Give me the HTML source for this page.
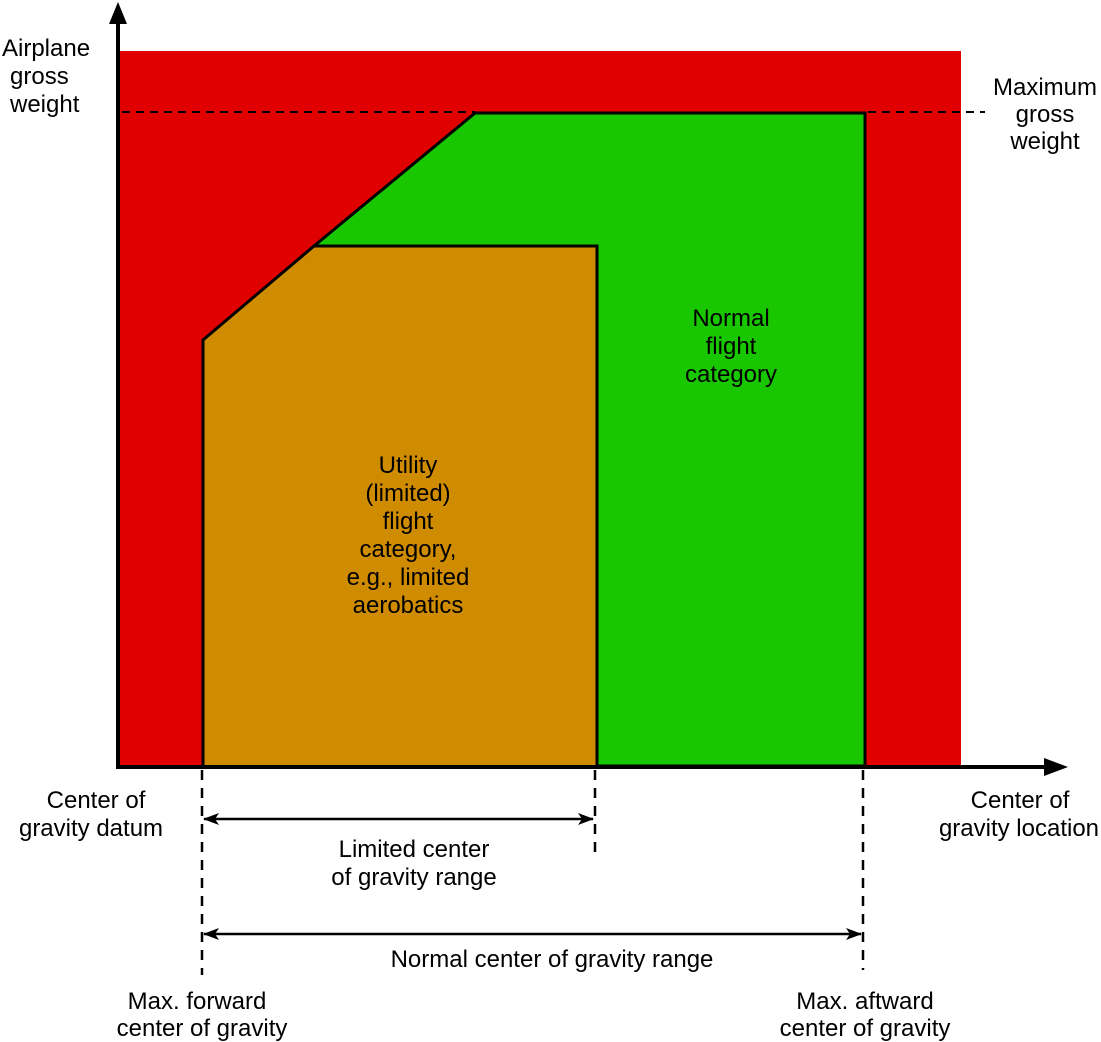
<!DOCTYPE html>
<html><head><style>body{margin:0;background:#fff}svg{display:block}text{font-family:"Liberation Sans",Arial,sans-serif;font-size:24px;fill:#000}</style></head><body>
<svg width="1101" height="1042" viewBox="0 0 1101 1042">
<defs>
<marker id="ah" markerWidth="16" markerHeight="12" refX="15" refY="6" orient="auto-start-reverse" markerUnits="userSpaceOnUse"><path d="M0,0 L16,6 L0,12 L4,6 Z" fill="#000"/></marker>
</defs>
<rect x="118" y="51" width="843" height="716" fill="#e00000"/>
<polygon points="314,246 475,113 865,113 865,766 597,766 597,246" fill="#19c700" stroke="#000" stroke-width="3"/>
<polygon points="203,340 314,246 597,246 597,767 203,767" fill="#d08c00" stroke="#000" stroke-width="3"/>
<line x1="122" y1="112" x2="475" y2="112" stroke="#000" stroke-width="2" stroke-dasharray="8,6"/>
<line x1="868" y1="112" x2="985" y2="112" stroke="#000" stroke-width="2" stroke-dasharray="8,6"/>
<line x1="118" y1="767" x2="118" y2="20" stroke="#000" stroke-width="4"/>
<polygon points="118,2 109,24 127,24" fill="#000"/>
<line x1="116" y1="767" x2="1050" y2="767" stroke="#000" stroke-width="4"/>
<polygon points="1068,767 1044,758 1044,776" fill="#000"/>
<g stroke="#000" stroke-width="2.5" stroke-dasharray="10,8">
<line x1="202" y1="770" x2="202" y2="975"/>
<line x1="595" y1="770" x2="595" y2="855"/>
<line x1="863" y1="770" x2="863" y2="970"/>
</g>
<line x1="204" y1="819" x2="593" y2="819" stroke="#000" stroke-width="2.5" marker-start="url(#ah)" marker-end="url(#ah)"/>
<line x1="204" y1="934" x2="861" y2="934" stroke="#000" stroke-width="2.5" marker-start="url(#ah)" marker-end="url(#ah)"/>
<text x="2" y="56">Airplane</text><text x="10" y="84">gross</text><text x="10" y="112">weight</text>
<g text-anchor="middle">
<text x="1045" y="95">Maximum</text><text x="1045" y="122">gross</text><text x="1045" y="149">weight</text>
<text x="731" y="326">Normal</text><text x="731" y="354">flight</text><text x="731" y="382">category</text>
<text x="408" y="473">Utility</text><text x="408" y="501">(limited)</text><text x="408" y="529">flight</text><text x="408" y="557">category,</text><text x="408" y="585">e.g., limited</text><text x="408" y="613">aerobatics</text>
<text x="96" y="808">Center of</text><text x="91" y="836">gravity datum</text>
<text x="1020" y="808">Center of</text><text x="1019" y="836">gravity location</text>
<text x="414" y="857">Limited center</text><text x="414" y="885">of gravity range</text>
<text x="552" y="967">Normal center of gravity range</text>
<text x="197" y="1009">Max. forward</text><text x="202" y="1036">center of gravity</text>
<text x="865" y="1009">Max. aftward</text><text x="865" y="1036">center of gravity</text>
</g>
</svg>
</body></html>
